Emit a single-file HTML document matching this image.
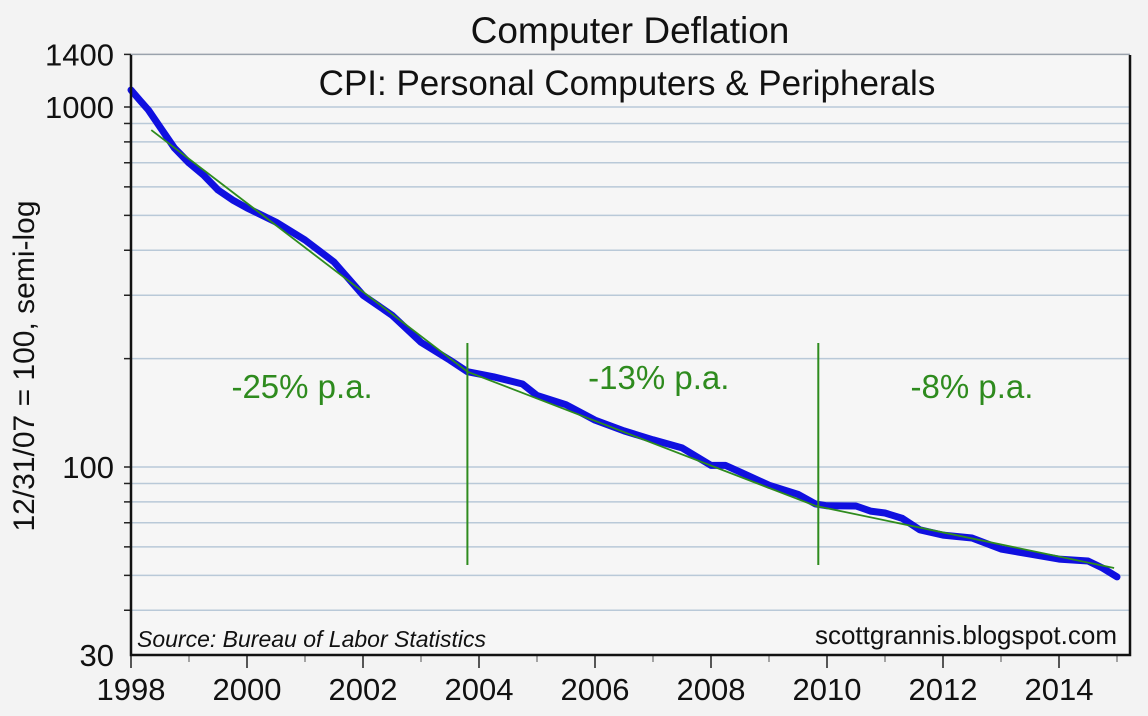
<!DOCTYPE html>
<html><head><meta charset="utf-8"><style>
html,body{margin:0;padding:0;background:#f3f3f3;}
svg{display:block;font-family:"Liberation Sans",sans-serif;}
</style></head><body>
<svg id="chart" width="1148" height="716" viewBox="0 0 1148 716">
<rect x="0" y="0" width="1148" height="716" fill="#f3f3f3"/>
<rect x="131" y="55" width="999" height="600" fill="#f6f6f6"/>
<g id="grid"></g>
<g id="marks"></g>
<g id="axes"></g>
<text x="630" y="43" font-size="37" text-anchor="middle" fill="#111">Computer Deflation</text>
<text x="627" y="95" font-size="35" text-anchor="middle" fill="#111">CPI: Personal Computers &amp; Peripherals</text>
<text transform="translate(34,366) rotate(-90)" font-size="30" text-anchor="middle" fill="#111">12/31/07 = 100, semi-log</text>
<text x="137" y="647" font-size="23" font-style="italic" fill="#111">Source: Bureau of Labor Statistics</text>
<text x="1117" y="644" font-size="26" text-anchor="end" fill="#111">scottgrannis.blogspot.com</text>
</svg>
<script>
const years=[1998.0,1998.15,1998.3,1998.5,1998.75,1999.0,1999.25,1999.5,1999.75,2000.0,2000.5,2001.0,2001.5,2002.0,2002.5,2003.0,2003.5,2003.8,2004.25,2004.75,2005.0,2005.5,2006.0,2006.5,2007.0,2007.5,2008.0,2008.25,2008.5,2009.0,2009.5,2009.8,2010.0,2010.5,2010.75,2011.0,2011.3,2011.6,2012.0,2012.5,2013.0,2013.5,2014.0,2014.5,2014.75,2015.0];
const cpi=[1115,1045,981,880,769,699,647,588,552,524,479,427,371,300,264,222,198,184,178,170,158,149,135,126,119,113,101,101,96.9,89,84,79,78,77.9,75.4,74.5,72,66.9,64.7,63.5,59.2,57.3,55.5,54.8,52.4,49.5];
const trendYears=[1998.35,2003.8,2009.8,2014.95];
const trendValues=[863,184,78,52.4];
const splitYears=[2003.8,2009.85];
const rateLabels=["-25% p.a.","-13% p.a.","-8% p.a."];
const rateLabelYears=[2000.95,2007.1,2012.5];
const rateLabelValues=[170,180,170];
const yTicks=[30,100,1000,1400];
const yGrid=[40,50,60,70,80,90,100,200,300,400,500,600,700,800,900,1000,1400];
const xTicks=[1998,2000,2002,2004,2006,2008,2010,2012,2014];
const xMinor=[1999,2001,2003,2005,2007,2009,2011,2013,2015];

const NS="http://www.w3.org/2000/svg";
const x=yr=>131+(yr-1998)*58;
const y=v=>467-(Math.log10(v)-2)*360;
function mk(tag,parent,attrs){const e=document.createElementNS(NS,tag);for(const k in attrs)e.setAttribute(k,attrs[k]);parent.appendChild(e);return e;}
const grid=document.getElementById('grid'),marks=document.getElementById('marks'),axes=document.getElementById('axes');
yGrid.forEach(v=>{
  const l=mk('line',grid,{x1:131,x2:1130,y1:y(v),y2:y(v),stroke:v===1400?'#9aa2ac':'#b9c9d8','stroke-width':1.5});
  
  
  const t=mk('line',axes,{x1:124,x2:131,y1:y(v),y2:y(v),stroke:'#222','stroke-width':1.5});
  
  
});
yTicks.forEach(v=>{
  const t=mk('text',axes,{x:114,y:y(v)+11,'font-size':31,'text-anchor':'end',fill:'#111'});
  t.textContent=v;
  
  
});
xTicks.forEach(yr=>{
  const t=mk('line',axes,{x1:x(yr),x2:x(yr),y1:655,y2:668,stroke:'#222','stroke-width':1.5});
  
  
  const lb=mk('text',axes,{x:x(yr),y:700,'font-size':31,'text-anchor':'middle',fill:'#111'});
  lb.textContent=yr;
  
  
});
xMinor.forEach(yr=>{
  const t=mk('line',axes,{x1:x(yr),x2:x(yr),y1:655,y2:662,stroke:'#888','stroke-width':1.5});
  
  
});
const fr=mk('path',axes,{d:'M131,55 V655 H1130 V55',fill:'none',stroke:'#111','stroke-width':2.5});


const pts=years.map((yr,i)=>x(yr).toFixed(1)+','+y(cpi[i]).toFixed(1)).join(' ');
const line=mk('polyline',marks,{points:pts,fill:'none',stroke:'#1010e0','stroke-width':7,'stroke-linejoin':'round','stroke-linecap':'round'});


for(let i=0;i<trendYears.length-1;i++){
  const t=mk('line',marks,{x1:x(trendYears[i]),y1:y(trendValues[i]),x2:x(trendYears[i+1]),y2:y(trendValues[i+1]),stroke:'#2e8b1e','stroke-width':1.8});
  
  
}
splitYears.forEach(yr=>{
  const s=mk('line',marks,{x1:x(yr),x2:x(yr),y1:343,y2:565,stroke:'#2e8b1e','stroke-width':2});
  
  
});
rateLabels.forEach((txt,i)=>{
  const t=mk('text',marks,{x:x(rateLabelYears[i]),y:y(rateLabelValues[i])+14,'font-size':33,'text-anchor':'middle',fill:'#2e8b1e'});
  t.textContent=txt;
  
  
});
</script>
</body></html>
